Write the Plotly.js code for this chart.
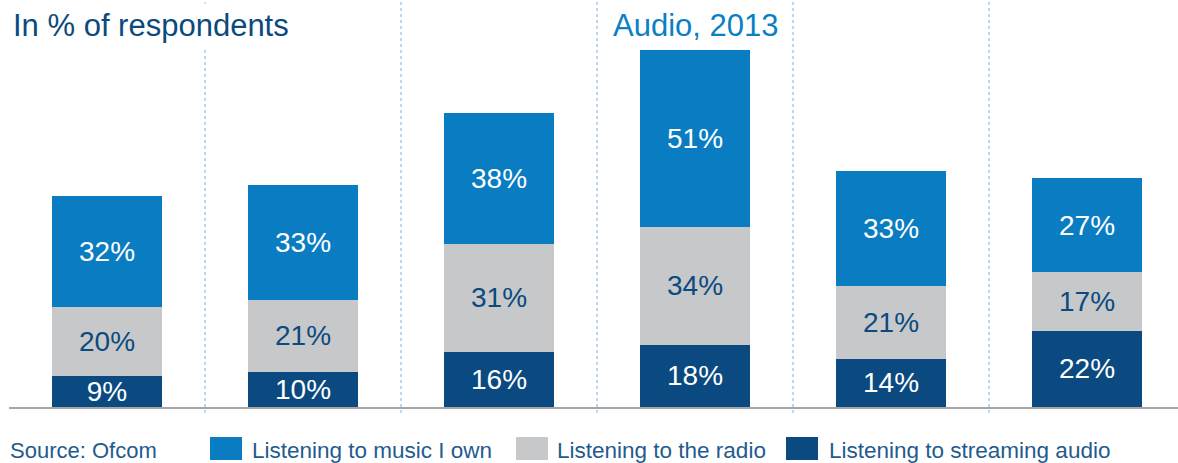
<!DOCTYPE html>
<html>
<head>
<meta charset="utf-8">
<script src="https://cdn.plot.ly/plotly-3.0.1.min.js"></script>
<style>
  html, body { margin: 0; padding: 0; background: #ffffff; }
  #chart { width: 1178px; height: 463px; }
</style>
</head>
<body>
<div id="chart"></div>
<script>
// ---- data ----
const categories = ['G1', 'G2', 'G3', 'G4', 'G5', 'G6'];
const seriesNames = ['Listening to music I own', 'Listening to the radio', 'Listening to streaming audio'];
const streaming = [9, 10, 16, 18, 14, 22];
const radio = [20, 21, 31, 34, 21, 17];
const musicOwn = [32, 33, 38, 51, 33, 27];
const chartTitle = 'In % of respondents';
const subTitle = 'Audio, 2013';
const sourceText = 'Source: Ofcom';

// ---- styling ----
const W = 1178, H = 463;
const M = { l: 9, r: 0, t: 0, b: 56 };
const plotW = W - M.l - M.r, plotH = H - M.t - M.b;
const pxX = px => (px - M.l) / plotW;
const pxY = py => (plotH + M.t - py) / plotH;

const cOwn = '#0a7dc2', cRadio = '#c7c8ca', cStream = '#0a4a80';
const FONT = '"Liberation Sans", Arial, Helvetica, sans-serif';
const xIdx = categories.map((c, i) => i);

function barTrace(name, vals, color, textColor) {
  return {
    type: 'bar',
    name: name,
    x: xIdx,
    y: vals,
    width: 0.56,
    marker: { color: color, line: { width: 0 } },
    text: vals.map(v => v + '%'),
    textposition: 'inside',
    insidetextanchor: 'middle',
    constraintext: 'none',
    textangle: 0,
    textfont: { family: FONT, size: 28, color: textColor },
    hoverinfo: 'skip',
    showlegend: false
  };
}

const data = [
  barTrace(seriesNames[2], streaming, cStream, '#ffffff'),
  barTrace(seriesNames[1], radio, cRadio, '#0a4a80'),
  barTrace(seriesNames[0], musicOwn, cOwn, '#ffffff')
];

// separators between categories
const shapes = [];
for (let i = 0; i < categories.length - 1; i++) {
  shapes.push({
    type: 'line', xref: 'x', yref: 'paper',
    x0: i + 0.5, x1: i + 0.5, y0: pxY(413), y1: 1,
    line: { color: '#a8cae8', width: 1.5, dash: 'dot' },
    layer: 'below'
  });
}

// manual legend
const legendColors = [cOwn, cRadio, cStream];
const swatchX = [210, 516, 786];
const textX = [250, 555, 827];
const annotations = [];
seriesNames.forEach((n, i) => {
  shapes.push({
    type: 'rect', xref: 'paper', yref: 'paper',
    x0: pxX(swatchX[i]), x1: pxX(swatchX[i] + 32),
    y0: pxY(460), y1: pxY(437),
    fillcolor: legendColors[i], line: { width: 0 }
  });
  annotations.push({
    xref: 'paper', yref: 'paper',
    x: pxX(textX[i]), y: pxY(450),
    xanchor: 'left', yanchor: 'middle',
    text: n, showarrow: false,
    font: { family: FONT, size: 22.5, color: '#1f5b8e' }
  });
});

annotations.push({
  xref: 'paper', yref: 'paper',
  x: pxX(8), y: pxY(26),
  xanchor: 'left', yanchor: 'middle',
  text: chartTitle, showarrow: false,
  bgcolor: '#ffffff', borderpad: 4,
  font: { family: FONT, size: 31, color: '#0b4a7d' }
});
annotations.push({
  xref: 'x', yref: 'paper',
  x: 3, y: pxY(26),
  xanchor: 'center', yanchor: 'middle',
  text: subTitle, showarrow: false,
  font: { family: FONT, size: 31, color: '#0a7fc4' }
});
annotations.push({
  xref: 'paper', yref: 'paper',
  x: pxX(8), y: pxY(450),
  xanchor: 'left', yanchor: 'middle',
  text: sourceText, showarrow: false,
  font: { family: FONT, size: 22, color: '#1f5b8e' }
});

const layout = {
  width: W, height: H,
  margin: M,
  paper_bgcolor: '#ffffff',
  plot_bgcolor: '#ffffff',
  barmode: 'stack',
  showlegend: false,
  xaxis: {
    range: [-0.5, 5.464],
    showgrid: false, zeroline: false,
    showticklabels: false, ticks: '',
    showline: true, linecolor: '#a6a6a6', linewidth: 2,
    fixedrange: true
  },
  yaxis: {
    range: [0, 117.5],
    showgrid: false, zeroline: false,
    showticklabels: false, ticks: '', showline: false,
    fixedrange: true
  },
  shapes: shapes,
  annotations: annotations,
  font: { family: FONT }
};

Plotly.newPlot('chart', data, layout, { displayModeBar: false, staticPlot: true });
</script>
</body>
</html>
